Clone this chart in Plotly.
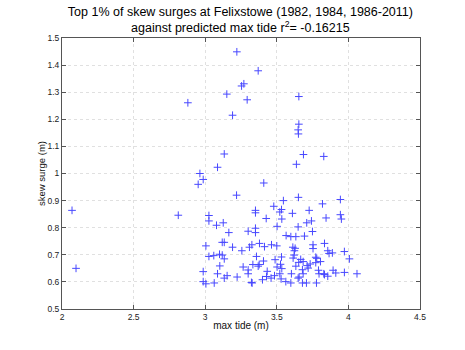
import plotly.graph_objects as go

max_tide = [
    2.070, 2.098, 2.812, 2.879,
    2.963, 2.986, 2.951, 3.409, 3.219, 3.651, 3.944, 3.819, 3.546, 3.479,
    3.351, 3.351, 3.533, 3.521, 3.609, 3.726, 3.944, 3.951, 3.844, 3.026,
    3.026, 3.126, 3.079, 3.426, 3.535, 3.742, 3.709, 3.165, 3.300, 3.351,
    3.351, 3.502, 3.649, 3.749, 3.565, 3.598, 3.633, 3.693, 3.119, 3.133,
    3.005, 3.191, 3.256, 3.309, 3.326, 3.379, 3.414, 3.463, 3.500, 3.612,
    3.628, 3.623, 3.753, 3.753, 3.833, 3.856, 3.865, 3.888, 3.972, 4.007,
    3.026, 3.060, 3.100, 3.119, 3.133, 3.102, 3.358, 3.407, 3.488, 3.533,
    3.614, 3.621, 3.667, 3.684, 3.772, 3.779, 3.653, 3.712, 3.733, 3.772,
    3.805, 2.986, 3.086, 3.153, 3.133, 3.223, 3.265, 3.300, 3.300, 3.333,
    3.370, 3.377, 3.433, 3.400, 3.428, 3.460, 3.484, 3.502, 3.526, 3.535,
    3.521, 3.530, 3.602, 3.633, 3.679, 3.649, 3.656, 3.684, 3.719, 3.791,
    3.795, 3.828, 3.833, 3.856, 3.893, 3.912, 3.972, 4.060, 2.986, 3.005,
    3.063, 3.323, 3.328, 3.563, 3.598, 3.679, 3.707, 3.777,
    3.221, 3.370, 3.254, 3.270, 3.151, 3.293, 3.191, 3.654, 3.654, 3.649,
    3.651, 3.133, 3.686, 3.828, 3.637, 3.086,
]
skew_surge = [
    0.864, 0.650, 0.846, 1.261,
    1.000, 0.978, 0.960, 0.965, 0.920, 0.912, 0.904, 0.888, 0.900, 0.879,
    0.864, 0.855, 0.867, 0.858, 0.853, 0.864, 0.848, 0.832, 0.836, 0.845,
    0.825, 0.818, 0.809, 0.834, 0.832, 0.825, 0.818, 0.782, 0.787, 0.798,
    0.782, 0.805, 0.803, 0.786, 0.771, 0.767, 0.767, 0.769, 0.746, 0.746,
    0.733, 0.728, 0.715, 0.728, 0.737, 0.742, 0.730, 0.737, 0.733, 0.728,
    0.724, 0.715, 0.737, 0.723, 0.742, 0.715, 0.705, 0.707, 0.712, 0.685,
    0.694, 0.697, 0.702, 0.699, 0.685, 0.659, 0.694, 0.677, 0.682, 0.692,
    0.688, 0.699, 0.683, 0.675, 0.691, 0.687, 0.672, 0.660, 0.666, 0.671,
    0.675, 0.638, 0.630, 0.623, 0.614, 0.618, 0.655, 0.644, 0.630, 0.664,
    0.658, 0.664, 0.639, 0.608, 0.620, 0.614, 0.623, 0.655, 0.665, 0.649,
    0.630, 0.611, 0.630, 0.658, 0.645, 0.614, 0.618, 0.630, 0.651, 0.643,
    0.630, 0.630, 0.627, 0.621, 0.643, 0.633, 0.635, 0.630, 0.601, 0.593,
    0.596, 0.598, 0.596, 0.601, 0.596, 0.596, 0.596, 0.596,
    1.449, 1.379, 1.323, 1.331, 1.293, 1.272, 1.215, 1.284, 1.182, 1.161,
    1.146, 1.072, 1.070, 1.063, 1.034, 1.023,
]

x_ticks = [2, 2.5, 3, 3.5, 4, 4.5]
x_tick_labels = ["2", "2.5", "3", "3.5", "4", "4.5"]
y_ticks = [0.5, 0.6, 0.7, 0.8, 0.9, 1.0, 1.1, 1.2, 1.3, 1.4, 1.5]
y_tick_labels = ["0.5", "0.6", "0.7", "0.8", "0.9", "1", "1.1", "1.2", "1.3", "1.4", "1.5"]

fig = go.Figure()
fig.add_trace(go.Scatter(
    x=max_tide, y=skew_surge, mode="markers",
    marker=dict(symbol="cross-thin", size=5.5, line=dict(color="#4848ff", width=1)),
    showlegend=False, hoverinfo="skip",
))

font_family = "Liberation Sans, Arial, sans-serif"
axis_common = dict(
    showgrid=True, gridcolor="#e0e0e0", griddash="dot", gridwidth=1,
    showline=True, linecolor="#555555", linewidth=1, mirror="ticks",
    ticks="inside", ticklen=4, tickcolor="#555555",
    zeroline=False, tickfont=dict(size=8.5, color="#222222", family=font_family),
)
fig.update_xaxes(range=[2, 4.5], tickvals=x_ticks, ticktext=x_tick_labels,
                 title=dict(text="max tide (m)", font=dict(size=10, color="#111111", family=font_family), standoff=0),
                 **axis_common)
fig.update_yaxes(range=[0.5, 1.5], tickvals=y_ticks, ticktext=y_tick_labels,
                 title=dict(text="skew surge (m)", font=dict(size=9.5, color="#111111", family=font_family), standoff=0),
                 **axis_common)

fig.update_layout(
    width=465, height=350,
    margin=dict(l=62, r=45, t=38, b=41),
    paper_bgcolor="white", plot_bgcolor="white",
    title=dict(
        text="Top 1% of skew surges at Felixstowe (1982, 1984, 1986-2011)<br>against predicted max tide r<sup>2</sup>= -0.16215",
        x=0.517, xanchor="center", y=0.955, yanchor="top",
        font=dict(size=12.5, color="#000000", family=font_family),
    ),
)

fig.write_html("out.html")
